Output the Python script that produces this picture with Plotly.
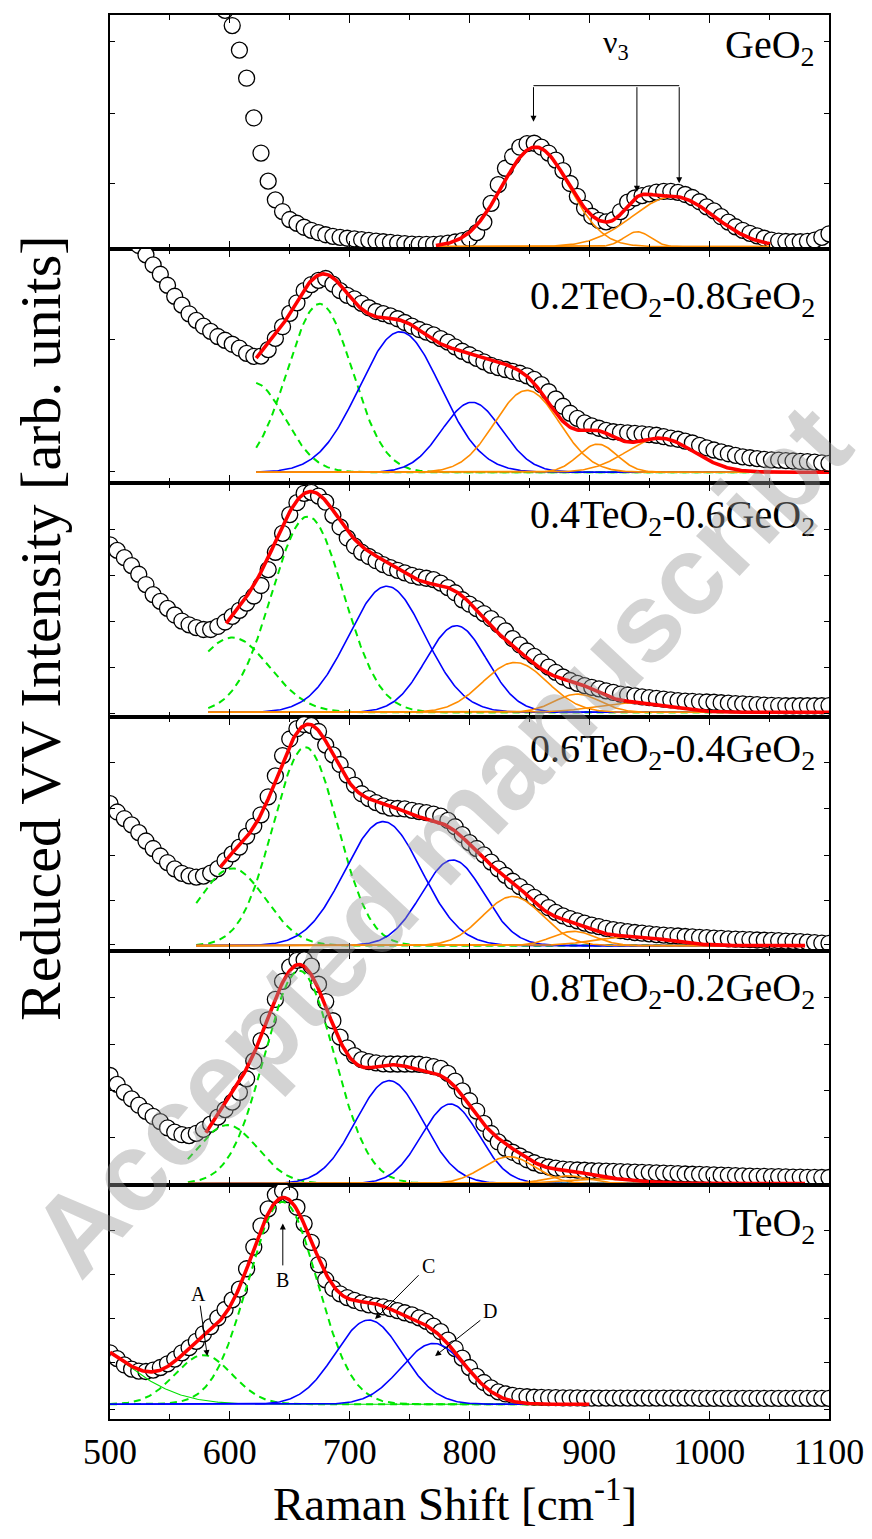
import numpy as np
import plotly.graph_objects as go
from plotly.subplots import make_subplots

STEP = 6.0  # spacing of the measured points [cm^-1]

# ---------------- measured reduced VV intensity (each panel scaled 0..100) -------------
geo2_x0 = 596
geo2_y = [102, 95.5, 85, 73, 56, 41, 29, 21, 16, 12.6, 11, 9.3, 8, 7, 6.1, 5.4, 5.0, 4.6, 4.3, 4.0,
          3.7, 3.4, 3.1, 2.8, 2.5, 2.3, 2.1, 2.0, 2.0, 2.0, 2.2, 2.5, 3.0, 3.6, 4.5, 7, 11.5, 19.5, 27.5, 34.5,
          39.5, 43.5, 45, 45.2, 43.5, 41, 38, 33.5, 28, 22.5, 17.5, 14, 12.2, 11.6, 12.5, 16, 20, 21.8, 22.8, 23.6,
          24.3, 24.6, 24.6, 24.2, 23.3, 22, 20.2, 18, 16.3, 13.8, 11.5, 9.5, 8, 6.7, 5.6, 4.6, 3.8, 3.4, 3.2, 3.1,
          3.1, 3.3, 3.8, 5.0, 6.5]

t02_x0 = 524
t02_y = [101.5, 97.5, 93.2, 89.2, 84.5, 79.8, 76, 72.3, 69.5, 67, 64.8, 62.6, 61, 59.3, 57.6, 55.4, 54.1, 54.2,
         57, 61.8, 66.8, 72.5, 77, 82.2, 84.8, 86.6, 87.4, 85, 82.2, 80.2, 78.7, 76.8, 74.9, 73.3, 72.4, 71.4,
         70.2, 68.6, 67, 65.6, 64.5, 63.3, 61.7, 60.2, 58.2, 56.3, 54.8, 53.3, 51.8, 50.3, 49.3, 48.5, 47.7,
         46.9, 45.8, 44.3, 42, 39, 35.9, 32.8, 29.8, 27.6, 25.7, 24.4, 23.4, 22.5, 21.9, 21.6, 21.4, 21.2, 21,
         20.7, 20.4, 19.8, 19.2, 18.7, 17.9, 17.1, 16.1, 15, 14.1, 13.3, 12.5, 11.8, 11.2, 10.8, 10.4, 10.1, 9.9,
         9.8, 9.6, 9.4, 9.2, 9.1, 8.9, 8.6, 8.4]

t04_x0 = 500
t04_y = [73.6, 71.2, 68.1, 64.7, 61, 56.6, 52.3, 49.4, 46.4, 43.6, 41, 39.4, 38.2, 37.4, 37.4, 38.7, 40.6, 43,
         45.6, 48.7, 51.7, 56.2, 63, 70.4, 78.5, 86.5, 91.6, 95.6, 96, 94.4, 91.8, 86.2, 81.2, 76.5, 73.1, 70.4,
         68.6, 66.8, 65.1, 63.8, 62.7, 61.6, 60.5, 59.8, 59.3, 58.7, 57.2, 55.3, 53.1, 50.1, 48.2, 46.3, 44.2,
         42, 39.5, 36.8, 33.5, 30.8, 28.2, 25.9, 23.6, 21.3, 19.1, 17.1, 15.6, 14.4, 13.4, 12.7, 12, 11.2, 10.5,
         9.8, 9.4, 9, 8.6, 8.3, 8, 7.6, 7.3, 7, 6.8, 6.7, 6.5, 6.4, 6.3, 6.1, 5.9, 5.7, 5.6, 5.4, 5.3, 5.1, 5.0,
         4.9, 4.8, 4.8, 4.8, 4.8, 4.8, 4.8, 4.9]

t06_x0 = 500
t06_y = [63, 59.4, 56.6, 53.9, 50.6, 47, 43.8, 40.6, 37.8, 35.1, 33.2, 32.1, 31.6, 32, 33.3, 35.2, 38.6, 41.5,
         44.4, 49.1, 53.4, 58.2, 65.9, 74.8, 83.5, 90.6, 95, 96.8, 96.3, 93.8, 88, 83.8, 79.7, 75.2, 70.9, 67.2,
         65.1, 63.4, 62, 61.1, 60.9, 60.7, 60.1, 59.6, 59.1, 58.5, 57.6, 55.8, 53.1, 49.7, 46.3, 43.8, 41.1, 38,
         35.1, 32.3, 29.8, 27.5, 25.2, 22.9, 20.8, 18.5, 16.5, 15, 13.8, 12.9, 11.9, 11.1, 10.4, 9.7, 9.1, 8.7,
         8.3, 7.9, 7.6, 7.3, 7.0, 6.8, 6.6, 6.4, 6.2, 6.0, 5.8, 5.7, 5.5, 5.4, 5.2, 5.1, 5.0, 4.9, 4.7, 4.6, 4.5,
         4.4, 4.2, 4.1, 4.0, 3.8, 3.6, 3.4, 3.3]

t08_x0 = 500
t08_y = [46.8, 43, 39.6, 36.8, 34.1, 31.5, 29.3, 27.1, 24.4, 22.6, 21.5, 21.1, 22.1, 23.8, 26, 29, 32.2, 35.4,
         39.6, 45.4, 53, 61.7, 70.6, 79.3, 87, 93.2, 96, 96.2, 93.5, 85.8, 78.4, 70.2, 63.2, 58.6, 55.3, 53.6,
         52.7, 52.2, 51.8, 51.7, 51.7, 51.7, 51.7, 51.6, 51.2, 50.6, 49.8, 47.7, 44.4, 40.2, 36, 31.6, 26.3, 22,
         18.4, 15.7, 14, 12.4, 10.8, 9.5, 8.4, 7.7, 7.2, 6.8, 6.6, 6.4, 6.3, 6.1, 6.0, 5.9, 5.8, 5.7, 5.6, 5.5,
         5.4, 5.3, 5.2, 5.1, 5.0, 4.9, 4.7, 4.6, 4.5, 4.4, 4.3, 4.2, 4.1, 4.0, 3.9, 3.8, 3.7, 3.7, 3.6, 3.6, 3.5,
         3.4, 3.4, 3.3, 3.3, 3.2, 3.2]

teo2_x0 = 500
teo2_y = [28.3, 25.8, 23.1, 21.3, 20.5, 20.3, 20.9, 22, 23.6, 25.6, 28.3, 30.5, 33.2, 36.4, 39.5, 43.2, 46.8,
          50.9, 55.5, 64.2, 73.5, 82.5, 89.8, 95.8, 97.5, 95.8, 90.5, 83.5, 75.5, 66, 59.5, 55.8, 53.5, 51.9,
          50.7, 49.6, 48.8, 48.3, 47.9, 47.2, 46.3, 45.4, 44.5, 43.2, 41.7, 39.7, 37.3, 33.7, 30.1, 26, 22, 18.2,
          15.6, 13.3, 11.6, 10.7, 10.1, 9.7, 9.5, 9.3, 9.2, 9.1, 9.1, 9.0, 9.0, 9.0, 8.9, 8.9, 8.9, 8.9, 8.9,
          8.9, 8.9, 8.9, 8.9, 8.9, 8.9, 8.9, 8.9, 8.9, 8.9, 8.9, 8.8, 8.8, 8.8, 8.8, 8.8, 8.8, 8.8, 8.8, 8.8,
          8.8, 8.8, 8.8, 8.8, 8.8, 8.8, 8.8, 8.8, 8.8, 8.8]

# ---------------- fitted Gaussian components: (centre, sigma, amplitude) ----------------
# range = x span of the component curves, fit_range = x span of the total fit (red)
geo2_base, geo2_range, geo2_fit_range = 1.0, (772, 1051), (772, 1051)
geo2_green, geo2_blue = [], []
geo2_orange = [(855, 28, 42.5), (940, 11, 6.4), (970, 34, 21.4)]

t02_base, t02_range, t02_fit_range = 4.6, (622, 1100), (622, 1100)
t02_green = [(620, 25.7, 38.3), (675, 27, 72)]
t02_blue = [(742, 34, 60), (802, 25, 29.9)]
t02_orange = [(848, 27, 35), (907, 16, 12), (959, 28, 14.5)]

t04_base, t04_range, t04_fit_range = 2.0, (582, 1100), (597, 1100)
t04_green = [(602, 31, 32), (665, 30, 83.7)]
t04_blue = [(731, 32, 53.9), (789, 25.5, 37)]
t04_orange = [(838, 27, 21.3), (890, 19, 7.8), (935, 30, 4)]

t06_base, t06_range, t06_fit_range = 2.3, (572, 1080), (592, 1080)
t06_green = [(602, 27.5, 33), (663, 27, 84.8)]
t06_blue = [(728, 32, 53), (786, 26, 36.6)]
t06_orange = [(836, 25, 21), (887, 18, 6.1), (935, 30, 3.8)]

t08_base, t08_range, t08_fit_range = 0.6, (565, 1080), (580, 1080)
t08_green = [(598, 25, 25), (658, 29, 91)]
t08_blue = [(733, 28, 44), (784, 24, 34)]
t08_orange = [(833, 22, 11.5), (882, 18, 3.3), (910, 30, 2)]

teo2_base, teo2_range, teo2_fit_range = 6.3, (500, 900), (500, 900)
teo2_bg = [(460, 49, 30.8)]
teo2_green = [(578, 24, 21), (644, 29, 86.5)]
teo2_blue = [(716, 28, 36), (770, 27, 26)]
teo2_orange = []

labels = ["GeO<sub>2</sub>", "0.2TeO<sub>2</sub>-0.8GeO<sub>2</sub>", "0.4TeO<sub>2</sub>-0.6GeO<sub>2</sub>",
          "0.6TeO<sub>2</sub>-0.4GeO<sub>2</sub>", "0.8TeO<sub>2</sub>-0.2GeO<sub>2</sub>", "TeO<sub>2</sub>"]
label_y = [86.2, 79.1, 85.3, 85.5, 83.5, 82.8]
yticks = [[27.8, 58.1, 88.6], [4.8, 61.5], [1.7, 21.3, 40.9, 60.5, 80.1], [2.7, 21.4, 41, 61, 80.7],
          [0.4, 20.3, 40.2, 60.2, 80.2], [3.9, 24.3, 43.1, 61.6, 80.7]]

panels = [
    dict(x0=geo2_x0, y=geo2_y, base=geo2_base, rng=geo2_range, frng=geo2_fit_range, bg=[],
         g=geo2_green, b=geo2_blue, o=geo2_orange),
    dict(x0=t02_x0, y=t02_y, base=t02_base, rng=t02_range, frng=t02_fit_range, bg=[],
         g=t02_green, b=t02_blue, o=t02_orange),
    dict(x0=t04_x0, y=t04_y, base=t04_base, rng=t04_range, frng=t04_fit_range, bg=[],
         g=t04_green, b=t04_blue, o=t04_orange),
    dict(x0=t06_x0, y=t06_y, base=t06_base, rng=t06_range, frng=t06_fit_range, bg=[],
         g=t06_green, b=t06_blue, o=t06_orange),
    dict(x0=t08_x0, y=t08_y, base=t08_base, rng=t08_range, frng=t08_fit_range, bg=[],
         g=t08_green, b=t08_blue, o=t08_orange),
    dict(x0=teo2_x0, y=teo2_y, base=teo2_base, rng=teo2_range, frng=teo2_fit_range, bg=teo2_bg,
         g=teo2_green, b=teo2_blue, o=teo2_orange),
]


def gauss(x, c, s, a):
    return a * np.exp(-(x - c) ** 2 / (2.0 * s * s))


SERIF = "Liberation Serif, Times New Roman, serif"
fig = make_subplots(rows=6, cols=1, shared_xaxes=True, vertical_spacing=0)

for i, p in enumerate(panels, start=1):
    xd = p["x0"] + STEP * np.arange(len(p["y"]))
    fig.add_trace(go.Scatter(x=xd, y=p["y"], mode="markers",
                             marker=dict(symbol="circle", size=16, color="white",
                                         line=dict(color="black", width=1.3)),
                             showlegend=False, hoverinfo="skip"), row=i, col=1)
    xf = np.arange(p["rng"][0], p["rng"][1] + 0.01, 1.0)
    xr = np.arange(p["frng"][0], p["frng"][1] + 0.01, 1.0)
    total = np.full_like(xr, p["base"], dtype=float)
    groups = [(p["bg"], dict(color="#00E000", width=1.1)),
              (p["g"], dict(color="#00E600", width=2, dash="7px,5px")),
              (p["b"], dict(color="#0000FF", width=1.6)),
              (p["o"], dict(color="#FF8C00", width=1.6))]
    for comps, style in groups:
        for c, s, a in comps:
            total += gauss(xr, c, s, a)
            fig.add_trace(go.Scatter(x=xf, y=p["base"] + gauss(xf, c, s, a), mode="lines",
                                     line=style, showlegend=False, hoverinfo="skip"), row=i, col=1)
    fig.add_trace(go.Scatter(x=xr, y=total, mode="lines",
                             line=dict(color="#FF0000", width=3.6),
                             showlegend=False, hoverinfo="skip"), row=i, col=1)

    fig.update_yaxes(range=[0, 100], tickvals=yticks[i - 1], showticklabels=False,
                     ticks="inside", ticklen=5, tickwidth=1.2, tickcolor="black",
                     showline=True, linecolor="black", linewidth=1.5, mirror="ticks",
                     showgrid=False, zeroline=False, automargin=False, row=i, col=1)
    fig.update_xaxes(range=[500, 1100], dtick=100, tick0=500, ticks="inside", ticklen=8,
                     tickwidth=1.2, tickcolor="black", ticklabeloverflow="allow",
                     minor=dict(dtick=50, ticks="inside", ticklen=5, tickwidth=1.2, tickcolor="black"),
                     showline=True, linecolor="black", linewidth=1.5, mirror="ticks",
                     showgrid=False, zeroline=False, showticklabels=(i == 6), automargin=False,
                     tickfont=dict(family=SERIF, size=36, color="black"), row=i, col=1)

    yref = "y" if i == 1 else f"y{i}"
    fig.add_annotation(x=1.0 - 12 / 719.0, y=label_y[i - 1], xref="paper", yref=yref,
                       text=labels[i - 1], showarrow=False, xanchor="right", yanchor="middle",
                       font=dict(family=SERIF, size=40, color="black"))

# nu_3 bracket in the GeO2 panel
nu_x = [853.4, 939.7, 975.0]
nu_tip = [54.4, 24.5, 28.1]
nu_top = 69.8
fig.add_shape(type="line", xref="x", yref="y", x0=nu_x[0], x1=nu_x[2], y0=nu_top, y1=nu_top,
              line=dict(color="black", width=1))
for xx, yy in zip(nu_x, nu_tip):
    fig.add_annotation(x=xx, y=yy, ax=xx, ay=nu_top, xref="x", yref="y", axref="x", ayref="y",
                       text="", showarrow=True, arrowhead=2, arrowsize=1.2, arrowwidth=1, arrowcolor="black")
fig.add_annotation(x=922, y=87.5, xref="x", yref="y", text="ν<sub>3</sub>", showarrow=False,
                   xanchor="center", yanchor="middle",
                   font=dict(family=SERIF, size=32, color="black"))

# peak labels in the TeO2 panel
peak_names = ["A", "B", "C", "D"]
peak_text = [(573.7, 53.4), (644.2, 59.2), (765.7, 65.4), (817.2, 46.3)]
peak_tail = [(575.1, 49.1), (644.2, 65.0), (758.8, 62.1), (810.3, 42.7)]
peak_head = [(581.2, 26.9), (644.2, 83.6), (721.2, 42.7), (771.3, 26.9)]
for n, (tx, ty), (ax_, ay_), (hx, hy) in zip(peak_names, peak_text, peak_tail, peak_head):
    fig.add_annotation(x=tx, y=ty, xref="x6", yref="y6", text=n, showarrow=False,
                       xanchor="center", yanchor="middle",
                       font=dict(family=SERIF, size=20, color="black"))
    fig.add_annotation(x=hx, y=hy, ax=ax_, ay=ay_, xref="x6", yref="y6", axref="x6", ayref="y6",
                       text="", showarrow=True, arrowhead=2, arrowsize=1.2, arrowwidth=1, arrowcolor="black")

# axis titles
fig.add_annotation(x=(455 - 110) / 719.0, y=(1419 - 1500) / 1404.0, xref="paper", yref="paper",
                   text="Raman Shift [cm<sup>-1</sup>]", showarrow=False,
                   xanchor="center", yanchor="middle",
                   font=dict(family=SERIF, size=47, color="black"))
fig.add_annotation(x=(40 - 110) / 719.0, y=(1419 - 628) / 1404.0, xref="paper", yref="paper",
                   text="Reduced VV Intensity [arb. units]", showarrow=False, textangle=-90,
                   xanchor="center", yanchor="middle",
                   font=dict(family=SERIF, size=58, color="black"))

# watermark
fig.add_annotation(x=(440 - 110) / 719.0, y=(1419 - 840) / 1404.0, xref="paper", yref="paper",
                   text="<b>Accepted manuscript</b>", showarrow=False, textangle=-47,
                   xanchor="center", yanchor="middle",
                   font=dict(family="Liberation Sans, Arial, sans-serif", size=112,
                             color="rgba(150,150,150,0.42)"))

# the page adds an 8 px body margin, so the figure origin sits at (8, 8) in the window
fig.update_layout(width=864, height=1523, margin=dict(l=102, r=43, t=7, b=112, autoexpand=False),
                  paper_bgcolor="white", plot_bgcolor="white", showlegend=False)

fig.write_html("out.html")
